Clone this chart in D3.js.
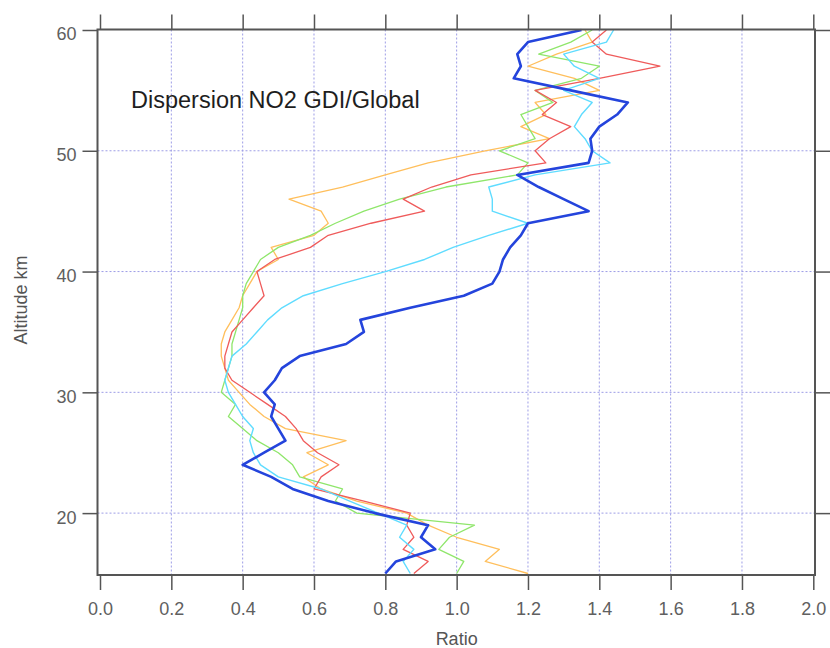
<!DOCTYPE html>
<html>
<head>
<meta charset="utf-8">
<script src="https://cdn.jsdelivr.net/npm/d3@7"></script>
<style>
  html, body { margin: 0; padding: 0; background: #fff; }
  svg { display: block; }
  text { font-family: "Liberation Sans", Arial, sans-serif; }
</style>
</head>
<body>
<svg id="chart" width="830" height="648"></svg>
<script>
// Altitude levels (km)
const altitudes = d3.range(15, 61);

// GDI/Global dispersion ratio profiles, one value per altitude level
const seriesBlue = [
  0.80, 0.83, 0.94, 0.90, 0.92, 0.77, 0.64, 0.54, 0.48, 0.40,
  0.46, 0.52, 0.50, 0.48, 0.49, 0.46, 0.49, 0.51, 0.56, 0.69,
  0.74, 0.73, 0.87, 1.02, 1.10, 1.12, 1.13, 1.15, 1.18, 1.20,
  1.37, 1.30, 1.23, 1.17, 1.37, 1.38, 1.375, 1.40, 1.45, 1.48,
  1.32, 1.16, 1.18, 1.17, 1.20, 1.35
];
const seriesCyan = [
  0.87, 0.85, 0.88, 0.84, 0.86, 0.78, 0.70, 0.62, 0.50, 0.45,
  0.43, 0.42, 0.43, 0.40, 0.38, 0.36, 0.35, 0.36, 0.37, 0.41,
  0.44, 0.47, 0.51, 0.57, 0.68, 0.80, 0.91, 0.99, 1.09, 1.20,
  1.10, 1.10, 1.09, 1.22, 1.43, 1.38, 1.36, 1.33, 1.35, 1.38,
  1.30, 1.40, 1.33, 1.30, 1.42, 1.44
];
const seriesGreen = [
  1.00, 1.02, 0.95, 0.98, 1.05, 0.72, 0.66, 0.68, 0.56, 0.54,
  0.50, 0.44, 0.40, 0.36, 0.38, 0.34, 0.35, 0.36, 0.37, 0.37,
  0.38, 0.39, 0.40, 0.40, 0.41, 0.43, 0.45, 0.50, 0.59, 0.66,
  0.74, 0.84, 0.97, 1.17, 1.20, 1.12, 1.22, 1.20, 1.18, 1.27,
  1.22, 1.35, 1.40, 1.23, 1.32, 1.38
];
const seriesOrange = [
  1.20, 1.08, 1.12, 1.00, 0.92, 0.86, 0.72, 0.62, 0.57, 0.64,
  0.58, 0.69, 0.52, 0.46, 0.42, 0.39, 0.36, 0.35, 0.34, 0.34,
  0.35, 0.37, 0.39, 0.40, 0.42, 0.44, 0.50, 0.48, 0.60, 0.64,
  0.62, 0.53, 0.68, 0.80, 0.92, 1.08, 1.26, 1.18, 1.25, 1.22,
  1.40, 1.33, 1.20, 1.28, 1.38, 1.36
];
const seriesRed = [
  0.88, 0.92, 0.85, 0.88, 0.86, 0.87, 0.74, 0.60, 0.62, 0.67,
  0.61, 0.57, 0.55, 0.52, 0.47, 0.42, 0.37, 0.35, 0.35, 0.36,
  0.37, 0.40, 0.43, 0.46, 0.45, 0.44, 0.49, 0.59, 0.64, 0.76,
  0.91, 0.85, 0.93, 1.04, 1.25, 1.22, 1.26, 1.32, 1.24, 1.28,
  1.22, 1.40, 1.57, 1.42, 1.38, 1.42
];

// Axis ticks
const xTicks = [0.0, 0.2, 0.4, 0.6, 0.8, 1.0, 1.2, 1.4, 1.6, 1.8, 2.0];
const yTicks = [20, 30, 40, 50, 60];

const titleText = "Dispersion NO2 GDI/Global";
const xLabel = "Ratio";
const yLabel = "Altitude km";

const series = [
  { values: seriesOrange, color: "#ffbf5c", width: 1.3 },
  { values: seriesGreen,  color: "#8fe66b", width: 1.3 },
  { values: seriesRed,    color: "#ef5b5b", width: 1.3 },
  { values: seriesCyan,   color: "#5fdcff", width: 1.4 },
  { values: seriesBlue,   color: "#2444dc", width: 2.6 }
];

const svg = d3.select("#chart");
const frame = { left: 97.5, right: 815, top: 29.5, bottom: 575 };

const x = d3.scaleLinear().domain([0, 2]).range([100, 813.3]);
const y = d3.scaleLinear().domain([15, 60]).range([573.5, 30]);

// Dotted grid
const grid = svg.append("g").attr("stroke", "#9d9de6").attr("stroke-width", 1)
  .attr("stroke-dasharray", "2,2");
grid.selectAll("line.v").data(xTicks.filter(t => t > 0 && t < 2)).join("line")
  .attr("class", "v")
  .attr("x1", d => x(d)).attr("x2", d => x(d))
  .attr("y1", frame.top).attr("y2", frame.bottom);
grid.selectAll("line.h").data(yTicks.filter(t => t < 60)).join("line")
  .attr("class", "h")
  .attr("x1", frame.left).attr("x2", frame.right)
  .attr("y1", d => y(d)).attr("y2", d => y(d));

// Profiles
const line = d3.line()
  .x(d => x(d[1]))
  .y(d => y(d[0]));

svg.append("g").selectAll("path").data(series).join("path")
  .attr("fill", "none")
  .attr("stroke", d => d.color)
  .attr("stroke-width", d => d.width)
  .attr("stroke-linejoin", "round")
  .attr("d", d => line(altitudes.map((a, i) => [a, d.values[i]])));

// Axes on all four sides, ticks outward
const axisColor = "#555";
const tickLen = 15;
const fmtX = d3.format(".1f");

const axisBottomG = svg.append("g").attr("transform", `translate(0,${frame.bottom})`)
  .call(d3.axisBottom(x).tickValues(xTicks).tickFormat(fmtX).tickSize(tickLen).tickPadding(12));
const axisTopG = svg.append("g").attr("transform", `translate(0,${frame.top})`)
  .call(d3.axisTop(x).tickValues(xTicks).tickFormat("").tickSize(tickLen));
const axisLeftG = svg.append("g").attr("transform", `translate(${frame.left},0)`)
  .call(d3.axisLeft(y).tickValues(yTicks).tickSize(tickLen).tickPadding(6));
const axisRightG = svg.append("g").attr("transform", `translate(${frame.right},0)`)
  .call(d3.axisRight(y).tickValues(yTicks).tickFormat("").tickSize(tickLen));

[axisBottomG, axisTopG, axisLeftG, axisRightG].forEach(g => {
  g.select(".domain").remove();
  g.selectAll(".tick line").attr("stroke", axisColor).attr("stroke-width", 1.5);
  g.selectAll(".tick text").attr("fill", "#606060").attr("font-size", 18)
    .attr("font-family", "Liberation Sans, Arial, sans-serif");
});
axisLeftG.selectAll(".tick text").attr("dy", "0.55em");

// Frame
svg.append("rect")
  .attr("x", frame.left).attr("y", frame.top)
  .attr("width", frame.right - frame.left).attr("height", frame.bottom - frame.top)
  .attr("fill", "none").attr("stroke", axisColor).attr("stroke-width", 2);

// Axis titles
svg.append("text")
  .attr("x", x(1.0)).attr("y", 645)
  .attr("text-anchor", "middle").attr("font-size", 18).attr("fill", "#555")
  .text(xLabel);
svg.append("text")
  .attr("transform", "translate(27,300) rotate(-90)")
  .attr("text-anchor", "middle").attr("font-size", 18).attr("fill", "#555")
  .text(yLabel);

// Chart title
svg.append("text")
  .attr("x", 131).attr("y", 108)
  .attr("font-size", 23.5).attr("fill", "#1e1e1e")
  .text(titleText);
</script>
</body>
</html>
